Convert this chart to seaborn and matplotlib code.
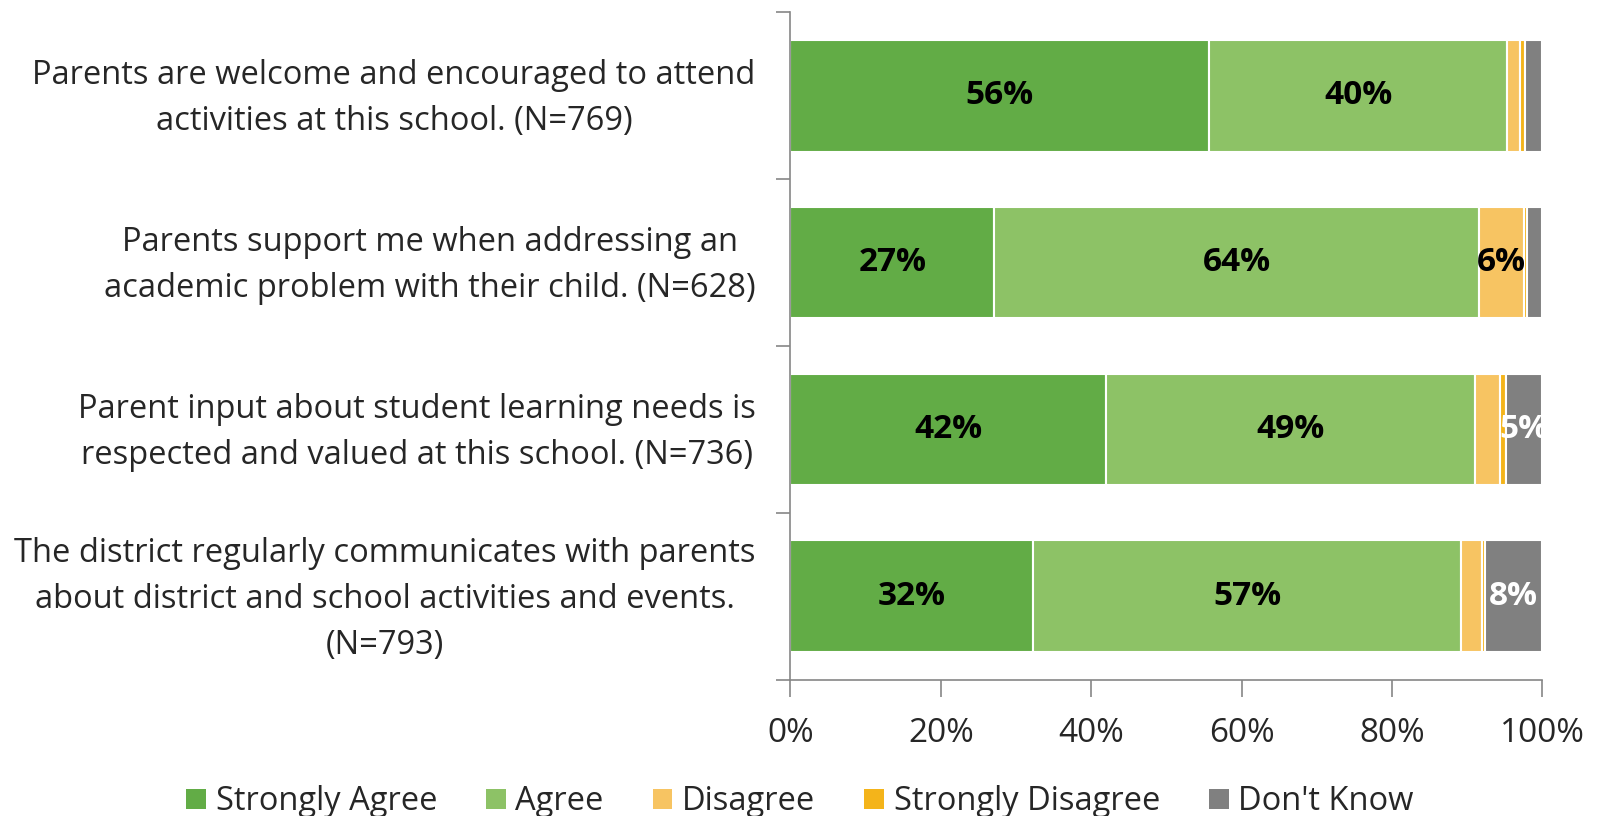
import numpy as np
import pandas as pd
import seaborn as sns
import matplotlib.pyplot as plt
from matplotlib.patches import Patch
from matplotlib.ticker import FixedLocator, PercentFormatter
from matplotlib.transforms import ScaledTranslation

sns.set_style("white")
plt.rcParams['font.family'] = ['Open Sans', 'DejaVu Sans']

questions = [
    "Parents are welcome and encouraged to attend\nactivities at this school. (N=769)",
    "Parents support me when addressing an\nacademic problem with their child. (N=628)",
    "Parent input about student learning needs is\nrespected and valued at this school. (N=736)",
    "The district regularly communicates with parents\nabout district and school activities and events.\n(N=793)",
]
categories = ["Strongly Agree", "Agree", "Disagree", "Strongly Disagree", "Don't Know"]
strongly_agree = [55.7, 27.1, 42.0, 32.3]
agree = [39.6, 64.5, 49.0, 56.9]
disagree = [1.7, 5.9, 3.4, 2.8]
strongly_disagree = [0.7, 0.4, 0.8, 0.4]
dont_know = [2.3, 2.1, 4.8, 7.6]
colors = ["#62ac46", "#8dc266", "#f7c462", "#f4b41a", "#808080"]
label_colors = ["black", "black", "black", "black", "white"]

series = [strongly_agree, agree, disagree, strongly_disagree, dont_know]
rows = []
for cat, vals in zip(categories, series):
    for q, v in zip(questions, vals):
        rows.append({"question": q, "category": cat, "value": v})
df = pd.DataFrame(rows)

fig = plt.figure(figsize=(16, 8.16), dpi=100)
ax = fig.add_axes([0.494, 0.167, 0.470, 0.818])

left = np.zeros(len(questions))
for cat, col, lcol in zip(categories, colors, label_colors):
    sub = df[df.category == cat]
    sns.barplot(data=sub, x="value", y="question", orient="h", color=col,
                left=left, width=0.67, edgecolor="white", linewidth=1.5,
                saturation=1, ax=ax, errorbar=None)
    cont = ax.containers[-1]
    labels = [f"{v:.0f}%" if v >= 4.5 else "" for v in sub.value]
    ax.bar_label(cont, labels=labels, label_type="center", color=lcol,
                 fontsize=24, fontweight="bold")
    left = left + sub.value.values

ax.set_xlim(0, 100)
ax.set_ylim(3.5, -0.5)
ax.set_xlabel("")
ax.set_ylabel("")
ax.xaxis.set_major_locator(FixedLocator([0, 20, 40, 60, 80, 100]))
ax.xaxis.set_major_formatter(PercentFormatter(decimals=0))
ax.yaxis.set_minor_locator(FixedLocator([-0.5, 0.5, 1.5, 2.5, 3.5]))
ax.tick_params(axis="x", which="major", length=12, width=1.2, color="#868686",
               labelsize=24, pad=15, direction="out", bottom=True)
ax.tick_params(axis="y", which="major", length=0, labelsize=23.5, pad=25)
ax.tick_params(axis="y", which="minor", length=10, width=1.2, color="#868686",
               direction="out", left=True)
shift = ScaledTranslation(0, 5.5 / 72, fig.dpi_scale_trans)
for t in ax.get_yticklabels():
    t.set_multialignment("center")
    t.set_linespacing(1.52)
    t.set_transform(t.get_transform() + shift)

for s in ["top", "right"]:
    ax.spines[s].set_visible(False)
for s in ["left", "bottom"]:
    ax.spines[s].set_color("#868686")
    ax.spines[s].set_linewidth(1.2)

handles = [Patch(facecolor=c, edgecolor="none") for c in colors]
fig.legend(handles, categories, loc="lower center", ncol=5, frameon=False,
           fontsize=23.5, bbox_to_anchor=(0.5, -0.031), borderpad=0.2,
           handlelength=0.6, handleheight=0.6, handletextpad=0.3,
           columnspacing=1.5)

fig.savefig("out.png", dpi=100)
